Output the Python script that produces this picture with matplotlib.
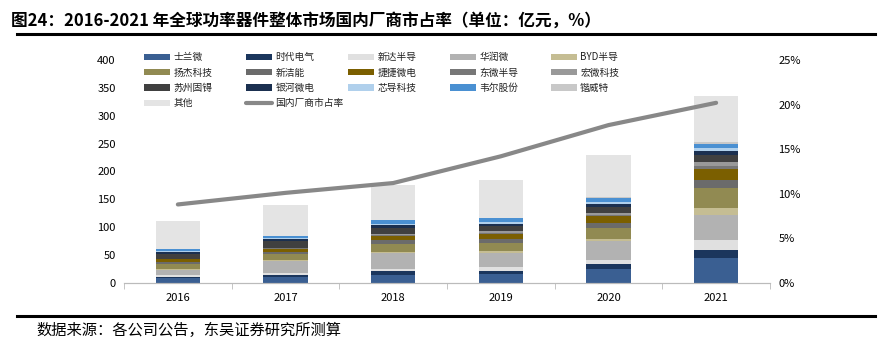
import matplotlib
matplotlib.use("Agg")
import matplotlib.pyplot as plt
import numpy as np
from matplotlib.ticker import FuncFormatter
from matplotlib.legend import Legend

plt.rcParams['font.family'] = ['Noto Sans CJK SC', 'DejaVu Sans']

years = ['2016', '2017', '2018', '2019', '2020', '2021']

companies = ['士兰微', '时代电气', '新达半导', '华润微', 'BYD半导', '扬杰科技', '新洁能', '捷捷微电',
             '东微半导', '宏微科技', '苏州固锝', '银河微电', '芯导科技', '韦尔股份', '锴威特', '其他']
line_label = '国内厂商市占率'

silan     = [9.6, 11.4, 13.8, 16.7, 24.5, 45.4]
crrc      = [1.5, 2.4, 7.2, 4.2, 9.0, 14.3]
xinda     = [3.0, 4.2, 4.8, 7.2, 8.4, 17.9]
crmicro   = [9.6, 20.9, 28.1, 26.3, 33.5, 43.6]
byd       = [1.0, 1.8, 2.4, 2.4, 3.6, 13.1]
yangjie   = [8.4, 10.8, 14.3, 15.5, 19.7, 35.3]
ncepower  = [4.2, 3.6, 6.0, 7.2, 8.4, 14.3]
jiejie    = [4.8, 6.0, 7.8, 8.4, 12.6, 19.7]
oriental  = [0.5, 1.0, 1.0, 2.0, 3.0, 5.4]
macmic    = [0.5, 1.0, 2.0, 2.4, 3.0, 7.2]
goodark   = [9.0, 12.6, 11.4, 9.6, 10.8, 12.6]
galaxy    = [4.2, 3.0, 4.8, 4.2, 6.0, 8.4]
prisemi   = [1.0, 1.5, 2.4, 4.0, 3.0, 4.2]
willsemi  = [3.0, 3.6, 6.0, 6.0, 6.6, 7.8]
kaiweite  = [0.5, 0.5, 0.8, 1.0, 1.8, 3.0]
others    = [51.0, 55.0, 63.4, 67.6, 75.3, 83.0]

share = [8.8, 10.1, 11.2, 14.2, 17.7, 20.2]

series = [silan, crrc, xinda, crmicro, byd, yangjie, ncepower, jiejie,
          oriental, macmic, goodark, galaxy, prisemi, willsemi, kaiweite, others]
colors = ['#3A5F92', '#1B365D', '#E0E0E0', '#B2B2B2', '#C5BD93', '#918A52', '#6B6B6B', '#7B5F00',
          '#777777', '#999999', '#404040', '#1B3050', '#B0D0EC', '#4A90D2', '#C8C8C8', '#E4E4E4']

fig = plt.figure(figsize=(8.86, 3.51), dpi=100)
ax = fig.add_axes([0.140, 0.194, 0.729, 0.635])
ax2 = ax.twinx()

x = np.arange(len(years))
bottom = np.zeros(len(years))
handles = []
for name, vals, c in zip(companies, series, colors):
    b = ax.bar(x, vals, 0.41, bottom=bottom, color=c, label=name, zorder=2)
    handles.append(b)
    bottom += np.array(vals)

ln, = ax2.plot(x, np.array(share) / 100, color='#888888', lw=3, label=line_label,
               solid_capstyle='round')

ax.set_xlim(-0.5, len(years) - 0.5)
ax.set_ylim(0, 400)
ax.set_yticks(np.arange(0, 401, 50))
ax2.set_ylim(0, 0.25)
ax2.set_yticks(np.arange(0, 0.26, 0.05))
ax2.yaxis.set_major_formatter(FuncFormatter(lambda v, p: f"{v*100:.0f}%"))

ax.set_xticks(x)
ax.set_xticklabels(years)
ax.set_xticks(np.arange(-0.5, len(years), 1), minor=True)
ax.tick_params(axis='x', which='major', length=0, labelsize=8, pad=7)
ax.tick_params(axis='x', which='minor', length=4, color='#BBBBBB', direction='out')
ax.tick_params(axis='y', length=0, labelsize=8, pad=6)
ax2.tick_params(axis='y', length=0, labelsize=8, pad=6)

for a in (ax, ax2):
    for s in ['top', 'left', 'right']:
        a.spines[s].set_visible(False)
    a.spines['bottom'].set_color('#BBBBBB')

# legend: 5 equally spaced columns, filled row by row
all_handles = handles + [ln]
all_labels = companies + [line_label]
rows = [[0, 1, 2, 3, 4], [5, 6, 7, 8, 9], [10, 11, 12, 13, 14], [15, 16]]
col_x = [0.031, 0.189, 0.347, 0.505, 0.661]
for ci, cx in enumerate(col_x):
    idxs = [r[ci] for r in rows if ci < len(r)]
    lg = Legend(ax2, [all_handles[i] for i in idxs], [all_labels[i] for i in idxs],
                loc='upper left', bbox_to_anchor=(cx, 1.035), frameon=False,
                fontsize=7, handlelength=2.7, handleheight=0.6, labelspacing=0.55,
                handletextpad=0.3, borderpad=0, borderaxespad=0)
    for t in lg.get_texts():
        t.set_color('#222222')
    ax2.add_artist(lg)

fig.text(0.012, 0.94, '图24：2016-2021 年全球功率器件整体市场国内厂商市占率（单位：亿元，%）',
         fontsize=12, fontweight='bold', ha='left', va='center')
fig.add_artist(plt.Line2D([0.019, 0.988], [0.902, 0.902], color='black', lw=2.2))
fig.add_artist(plt.Line2D([0.019, 0.988], [0.099, 0.099], color='black', lw=2.2))
fig.text(0.041, 0.058, '数据来源：各公司公告，东吴证券研究所测算', fontsize=11, ha='left', va='center')

fig.savefig('out.png', dpi=100)
